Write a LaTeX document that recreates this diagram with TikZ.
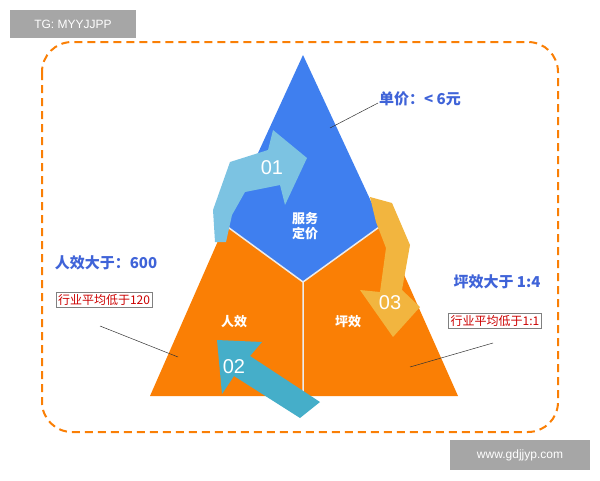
\documentclass[tikz,border=0pt]{standalone}
\usepackage{fontspec}
\setmainfont{Liberation Sans}
\newfontfamily\cjk{Noto Sans CJK SC}
\definecolor{tblue}{HTML}{3F7FEF}
\definecolor{torange}{HTML}{FA7F05}
\definecolor{lblue}{HTML}{3F63D8}
\definecolor{aone}{HTML}{7CC3E2}
\definecolor{atwo}{HTML}{45AEC9}
\definecolor{athree}{HTML}{F2B53F}
\begin{document}
\begin{tikzpicture}[x=1pt, y=-1pt,
        face/.style={draw=white!85!gray, line width=1.5pt, line join=round},
        inner/.style={font=\cjk\bfseries\fontsize{13}{15}\selectfont, text=white},
        note/.style={font=\cjk\bfseries\fontsize{15}{18}\selectfont, text=lblue},
        redbox/.style={draw=gray, fill=white, font=\cjk\fontsize{12}{14}\selectfont, text=red!80!black, inner sep=2pt},
        num/.style={font=\fontsize{20}{22}\selectfont, text=white},
        pointer/.style={draw=black!80, line width=0.5pt},
        tag/.style={fill=gray!70, text=white, font=\fontsize{12}{14}\selectfont, inner sep=4pt}
    ]
        \useasboundingbox (0,0) rectangle (600,480);
        % Frame
        \draw[draw=torange, line width=2pt, rounded corners=30pt, dash pattern=on 8pt off 5pt] (42,42) rectangle (558,432);
        % Pyramid faces
        \coordinate (apex) at (303,55);
        \coordinate (bl) at (150,396);
        \coordinate (br) at (458,396);
        \coordinate (mid) at (303,282);
        \coordinate (ml) at (225,225);
        \coordinate (mr) at (382,225);
        \coordinate (mb) at (303,396);
        \fill[tblue] (apex) -- (mr) -- (mid) -- (ml) -- cycle;
        \fill[torange] (ml) -- (mid) -- (mb) -- (bl) -- cycle;
        \fill[torange] (mr) -- (mid) -- (mb) -- (br) -- cycle;
        \draw[face] (ml) -- (mid) -- (mr) (mid) -- (mb);
        % Arrows
        \fill[aone] (215,242) -- (213,210) -- (230,162) -- (268,150) -- (273,130) -- (307,158) -- (285,205) -- (280,185) -- (245,192) -- (232,215) -- (226,242) -- cycle;
        \fill[atwo] (217,340) -- (262,342) -- (250,356) -- (320,402) -- (300,418) -- (234,376) -- (222,394) -- cycle;
        \fill[athree] (370,197) -- (392,203) -- (410,245) -- (402,290) -- (420,307) -- (393,337) -- (360,290) -- (380,292) -- (386,248) -- (376,222) -- cycle;
        \node[num] (n01) at (272,168) {01};
        \node[num] (n02) at (234,367) {02};
        \node[num] (n03) at (390,303) {03};
        % Face labels
        \node[inner, align=center] (service) at (305,226) {服务\\定价};
        \node[inner] (staff) at (234,322) {人效};
        \node[inner] (area) at (348,322) {坪效};
        % Notes
        \node[note] (price) at (420,99) {单价：< 6元};
        \node[note] (staffnote) at (106,263) {人效大于：600};
        \node[redbox] (staffavg) at (104,300) {行业平均低于120};
        \node[note] (areanote) at (497,282) {坪效大于 1:4};
        \node[redbox] (areaavg) at (495,321) {行业平均低于1:1};
        \coordinate (pricept) at (330,128);
        \coordinate (pricefoot) at (378,103);
        \coordinate (staffpt) at (178,357);
        \coordinate (stafffoot) at (100,326);
        \coordinate (areapt) at (410,367);
        \coordinate (areafoot) at (493,343);
        \draw[pointer] (pricefoot) -- (pricept);
        \draw[pointer] (stafffoot) -- (staffpt);
        \draw[pointer] (areafoot) -- (areapt);
        % Tags
        \node[tag, minimum width=126pt, minimum height=28pt] (tg) at (73,24) {TG: MYYJJPP};
        \node[tag, minimum width=140pt, minimum height=30pt] (web) at (520,455) {www.gdjjyp.com};
\end{tikzpicture}
\end{document}
